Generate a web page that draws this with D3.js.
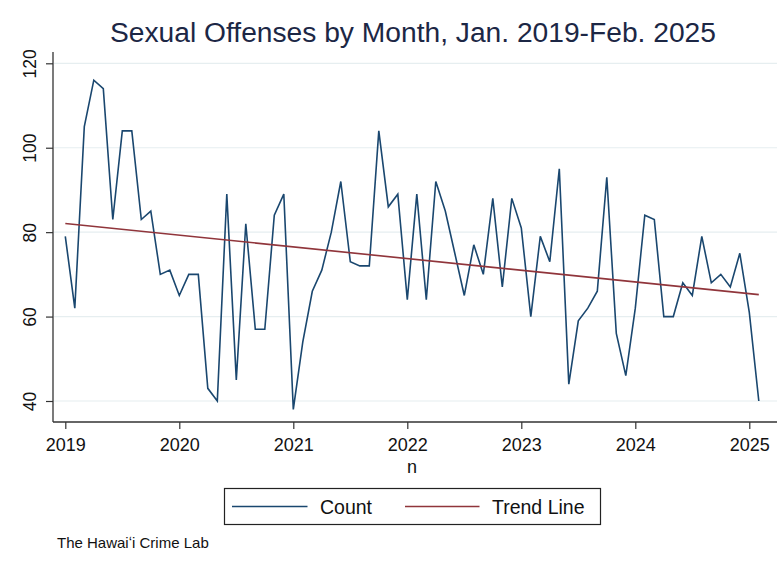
<!DOCTYPE html>
<html>
<head>
<meta charset="utf-8">
<script src="https://cdn.jsdelivr.net/npm/d3@7"></script>
<style>
  html, body { margin: 0; padding: 0; background: #fff; }
  svg { display: block; font-family: "Liberation Sans", Arial, Helvetica, sans-serif; }
</style>
</head>
<body>
<svg id="chart" width="779" height="575"></svg>
<script>
// ---- data ----
const yearLabels = ["2019", "2020", "2021", "2022", "2023", "2024", "2025"];
const counts = [
  79, 62, 105, 116, 114, 83, 104, 104, 83, 85, 70, 71,   // 2019
  65, 70, 70, 43, 40, 89, 45, 82, 57, 57, 84, 89,        // 2020
  38, 54, 66, 71, 80, 92, 73, 72, 72, 104, 86, 89,       // 2021
  64, 89, 64, 92, 85, 75, 65, 77, 70, 88, 67, 88,        // 2022
  81, 60, 79, 73, 95, 44, 59, 62, 66, 93, 56, 46,        // 2023
  62, 84, 83, 60, 60, 68, 65, 79, 68, 70, 67, 75,        // 2024
  61, 40                                                 // 2025
];
const trendEnds = [82.05, 65.2];      // trend value at first and last month
const yTicks = [40, 60, 80, 100, 120];
const titleText = "Sexual Offenses by Month, Jan. 2019-Feb. 2025";
const xTitle = "n";
const legendLabels = ["Count", "Trend Line"];
const footer = "The Hawai\u02BBi Crime Lab";

// ---- layout ----
const svg = d3.select("#chart");
const countColor = "#1a476f", trendColor = "#90353b";
const axisLeft = 53, axisBottom = 422, axisTop = 52, axisRight = 777;

const x = d3.scaleLinear().domain([0, 72]).range([65.3, 749.3]);
const y = d3.scaleLinear().domain([40, 120]).range([401, 63.3]);

const pts = counts.map((v, i) => ({ i, v }));
const lastIdx = counts.length - 1;

// gridlines
svg.append("g").selectAll("line").data(yTicks).join("line")
  .attr("x1", axisLeft + 1).attr("x2", axisRight)
  .attr("y1", d => y(d)).attr("y2", d => y(d))
  .attr("stroke", "#e6eef0").attr("stroke-width", 1.2);

// y axis
const yAxis = d3.axisLeft(y).tickValues(yTicks).tickSize(7).tickPadding(0).tickFormat(d3.format("d"));
const gy = svg.append("g").attr("transform", `translate(${axisLeft},0)`).call(yAxis);
gy.select(".domain").remove();
gy.selectAll(".tick line").attr("stroke", "#333").attr("stroke-width", 1.2);
gy.selectAll(".tick text")
  .attr("transform", "rotate(-90)")
  .attr("x", 0).attr("y", -17).attr("dy", 0)
  .attr("text-anchor", "middle")
  .attr("font-size", 17.5).attr("fill", "#111");
svg.append("line").attr("x1", axisLeft).attr("x2", axisLeft)
  .attr("y1", axisTop).attr("y2", axisBottom)
  .attr("stroke", "#333").attr("stroke-width", 1.3);

// x axis
const xAxis = d3.axisBottom(x).tickValues(yearLabels.map((d, k) => k * 12))
  .tickSize(7).tickPadding(0).tickFormat((d, k) => yearLabels[k]);
const gx = svg.append("g").attr("transform", `translate(0,${axisBottom})`).call(xAxis);
gx.select(".domain").remove();
gx.selectAll(".tick line").attr("stroke", "#333").attr("stroke-width", 1.2);
gx.selectAll(".tick text").attr("y", 29).attr("dy", 0)
  .attr("font-size", 18).attr("fill", "#111");
svg.append("line").attr("x1", axisLeft).attr("x2", axisRight)
  .attr("y1", axisBottom).attr("y2", axisBottom)
  .attr("stroke", "#333").attr("stroke-width", 1.3);

svg.append("text").attr("x", 412).attr("y", 473).attr("text-anchor", "middle")
  .attr("font-size", 18).attr("fill", "#111").text(xTitle);

// count line
svg.append("path").datum(pts)
  .attr("fill", "none").attr("stroke", countColor).attr("stroke-width", 1.6)
  .attr("stroke-linejoin", "miter")
  .attr("d", d3.line().x(d => x(d.i)).y(d => y(d.v)));

// trend line
const trendPts = [{ i: 0, v: trendEnds[0] }, { i: lastIdx, v: trendEnds[1] }];
svg.append("path").datum(trendPts)
  .attr("fill", "none").attr("stroke", trendColor).attr("stroke-width", 1.6)
  .attr("d", d3.line().x(d => x(d.i)).y(d => y(d.v)));

// title
const title = svg.append("text").attr("x", 413).attr("y", 42).attr("text-anchor", "middle")
  .attr("font-size", 28).attr("fill", "#1c2745").text(titleText);
const tw = title.node().getComputedTextLength();
if (tw > 0) title.attr("font-size", 28 * 606 / tw);

// legend
const lg = svg.append("g");
lg.append("rect").attr("x", 224.5).attr("y", 488.5).attr("width", 376).attr("height", 36)
  .attr("fill", "#fff").attr("stroke", "#222").attr("stroke-width", 1.2);
const legendItems = [
  { label: legendLabels[0], color: countColor, x0: 232, x1: 307.5, tx: 320 },
  { label: legendLabels[1], color: trendColor, x0: 405, x1: 479.5, tx: 492 }
];
legendItems.forEach(it => {
  lg.append("line").attr("x1", it.x0).attr("x2", it.x1).attr("y1", 506.5).attr("y2", 506.5)
    .attr("stroke", it.color).attr("stroke-width", 1.6);
  lg.append("text").attr("x", it.tx).attr("y", 514).attr("font-size", 19.5)
    .attr("fill", "#111").text(it.label);
});

// footer
svg.append("text").attr("x", 57).attr("y", 548).attr("font-size", 15)
  .attr("fill", "#111").text(footer);
</script>
</body>
</html>
